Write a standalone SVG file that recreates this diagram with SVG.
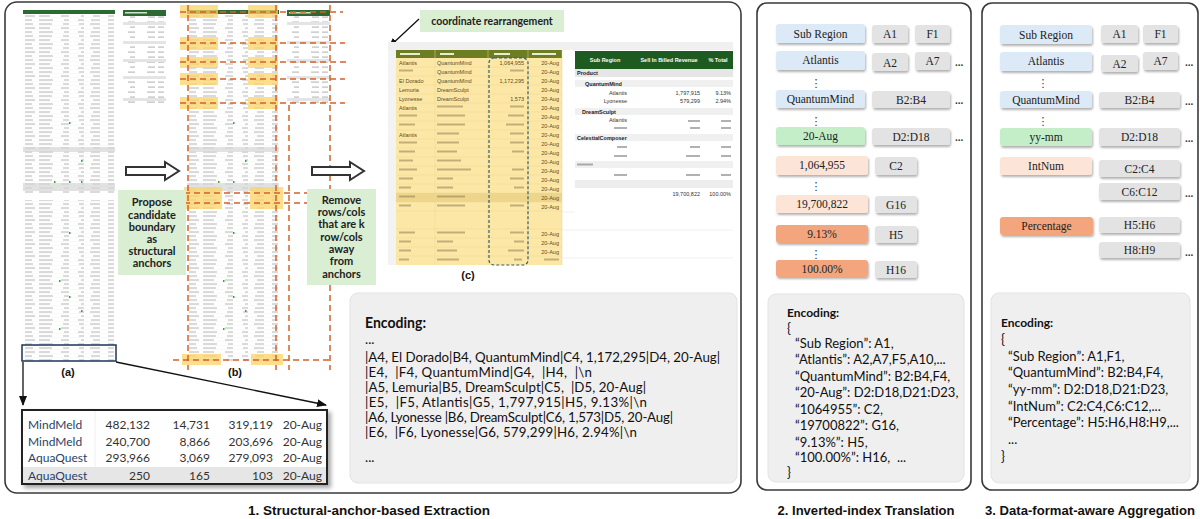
<svg xmlns="http://www.w3.org/2000/svg" width="1200" height="519" viewBox="0 0 1200 519">
<defs>
<style>
.panel{fill:#fff;stroke:#3a3a3a;stroke-width:1.6}
.enc{fill:#efefef;stroke:#e3e3e3;stroke-width:1}
.nb{fill:#dce9f6}.ng{fill:#c4eec8}.np{fill:#fce4d6}.no{fill:#f3a67e}.nx{fill:#e3e3e3}
.nt{font-family:"Liberation Serif",serif;font-size:11.5px;fill:#222;text-anchor:middle}
.dots{font-family:"Liberation Sans",sans-serif;font-size:10px;font-weight:bold;fill:#333}
.vd{font-family:"DejaVu Sans",sans-serif;font-size:11px;fill:#333;text-anchor:middle}
.et{font-family:Lato,"Liberation Sans",sans-serif;font-size:13px;fill:#111;white-space:pre}
.eh{font-family:Lato,"Liberation Sans",sans-serif;font-size:12px;font-weight:bold;fill:#111}
.e1{font-family:Lato,"Liberation Sans",sans-serif;font-size:13.3px;fill:#111;white-space:pre}
.e1h{font-family:Lato,"Liberation Sans",sans-serif;font-size:14.5px;font-weight:bold;fill:#111}
.gb{fill:#d9eed2}
.gt{font-family:Lato,"Liberation Sans",sans-serif;font-size:11px;font-weight:bold;fill:#222;text-anchor:middle}
.lab{font-family:"Liberation Sans",sans-serif;font-size:11px;font-weight:bold;fill:#111;text-anchor:middle}
.cap{font-family:"Liberation Sans",sans-serif;font-size:12px;font-weight:bold;fill:#111;text-anchor:middle}
.od{stroke:#d4612a;stroke-width:1.5;stroke-dasharray:6 4;fill:none}
.yl{fill:#fcd366;opacity:.75}
.blk{fill:#fff;stroke:#333;stroke-width:2}
.zt{font-family:Lato,"Liberation Sans",sans-serif;font-size:12px;fill:#333}
.zn{font-family:Lato,"Liberation Sans",sans-serif;font-size:12px;fill:#2b3f66}
.tc{font-family:"Liberation Sans",sans-serif;font-size:5.5px;fill:#5c4a20}
.tp{font-family:"Liberation Sans",sans-serif;font-size:5.5px;fill:#333}
.tb{font-family:"Liberation Sans",sans-serif;font-size:5.5px;font-weight:bold;fill:#222}
.bar{fill:#8a7650;opacity:.5}
.pbar{fill:#555;opacity:.45}
</style>
<filter id="sh" x="-10%" y="-20%" width="130%" height="170%"><feDropShadow dx="1" dy="2" stdDeviation="1" flood-color="#000" flood-opacity="0.3"/></filter>
<filter id="sh2" x="-5%" y="-10%" width="115%" height="130%"><feDropShadow dx="3" dy="3" stdDeviation="2" flood-color="#000" flood-opacity="0.35"/></filter>
<marker id="ah" markerWidth="10" markerHeight="10" refX="9" refY="5" orient="auto" markerUnits="userSpaceOnUse"><path d="M0,1 L10,5 L0,9 Z" fill="#111"/></marker>
<pattern id="rowsA" width="92" height="12" patternUnits="userSpaceOnUse">
<rect width="92" height="12" fill="#fff"/>
<g fill="#c2c2c2">
<rect x="2" y="1.4" width="8" height="1.2"/><rect x="16" y="1.4" width="13" height="1.2"/><rect x="40" y="1.4" width="6" height="1.2"/><rect x="56" y="1.4" width="5" height="1.2"/><rect x="67" y="1.4" width="10" height="1.2"/><rect x="85" y="1.4" width="6" height="1.2"/>
<rect x="2" y="5.4" width="10" height="1.2"/><rect x="16" y="5.4" width="11" height="1.2"/><rect x="38" y="5.4" width="8" height="1.2"/><rect x="58" y="5.4" width="3" height="1.2"/><rect x="70" y="5.4" width="7" height="1.2"/><rect x="85" y="5.4" width="6" height="1.2"/>
<rect x="2" y="9.4" width="7" height="1.2"/><rect x="16" y="9.4" width="14" height="1.2"/><rect x="41" y="9.4" width="5" height="1.2"/><rect x="55" y="9.4" width="6" height="1.2"/><rect x="68" y="9.4" width="9" height="1.2"/><rect x="85" y="9.4" width="6" height="1.2"/>
</g>
<g fill="#ededed"><rect y="3.7" width="92" height="0.3"/><rect y="7.7" width="92" height="0.3"/><rect y="11.7" width="92" height="0.3"/></g>
</pattern>
<pattern id="rowsP" width="43" height="10" patternUnits="userSpaceOnUse">
<rect width="43" height="10" fill="#fff"/>
<g fill="#bdbdbd"><rect x="5" y="1.5" width="7" height="1.2"/><rect x="24" y="1.5" width="8" height="1.2"/><rect x="35" y="1.5" width="6" height="1.2"/>
<rect x="7" y="6.5" width="5" height="1.2"/><rect x="25" y="6.5" width="7" height="1.2"/><rect x="35" y="6.5" width="6" height="1.2"/></g>
</pattern>
</defs>

<rect width="1200" height="519" fill="#fff"/>

<!-- panels -->
<g id="panel1"><rect class="panel" x="5" y="2" width="736" height="491" rx="12"/></g>
<g id="panel2"><rect class="panel" x="757" y="3" width="214" height="487" rx="10"/></g>
<g id="panel3"><rect class="panel" x="982" y="3" width="216" height="487" rx="10"/></g>

<!-- sheet (a) -->
<g id="sheet-a" transform="translate(23,10)">
<rect width="92" height="352" fill="url(#rowsA)"/>
<rect width="92" height="4" fill="#2d6a31"/>
<rect y="137" width="92" height="5" fill="#d6d6d6" opacity=".7"/>
<rect y="173" width="92" height="8" fill="#d6d6d6" opacity=".7"/>
<rect y="183" width="92" height="7" fill="#fff"/>
<g fill="#3aa63a"><rect x="46" y="112" width="1.5" height="2"/><rect x="58" y="150" width="1.5" height="2"/><rect x="31" y="171" width="1.5" height="2"/><rect x="46" y="171" width="1.5" height="2"/><rect x="58" y="171" width="1.5" height="2"/><rect x="46" y="222" width="1.5" height="2"/><rect x="36" y="270" width="1.5" height="2"/><rect x="46" y="286" width="1.5" height="2"/><rect x="58" y="300" width="1.5" height="2"/><rect x="36" y="318" width="1.5" height="2"/></g>
</g>
<g id="pivot-a" transform="translate(123,10)">
<rect width="43" height="95" fill="url(#rowsP)"/>
<rect width="43" height="6" fill="#2d6a31"/>
<rect x="2" y="2" width="22" height="1.5" fill="#cfe3cf"/>
<g fill="#e4e4e4"><rect y="12" width="43" height="3"/><rect y="31" width="43" height="3"/><rect y="49" width="43" height="3"/><rect y="66" width="43" height="3"/><rect y="88" width="43" height="3"/></g>
</g>

<!-- sheet (b) -->
<g id="sheet-b" transform="translate(187,10)">
<rect width="92" height="352" fill="url(#rowsA)"/>
<rect width="92" height="4" fill="#2d6a31"/>
<rect y="137" width="92" height="5" fill="#d6d6d6" opacity=".7"/>
<rect y="173" width="92" height="8" fill="#d6d6d6" opacity=".7"/>
<g fill="#3aa63a"><rect x="46" y="112" width="1.5" height="2"/><rect x="58" y="150" width="1.5" height="2"/><rect x="31" y="171" width="1.5" height="2"/><rect x="46" y="171" width="1.5" height="2"/><rect x="46" y="222" width="1.5" height="2"/><rect x="36" y="270" width="1.5" height="2"/><rect x="46" y="286" width="1.5" height="2"/><rect x="58" y="300" width="1.5" height="2"/><rect x="36" y="318" width="1.5" height="2"/></g>
</g>
<g id="pivot-b" transform="translate(287,10)">
<rect width="43" height="95" fill="url(#rowsP)"/>
<rect width="43" height="6" fill="#2d6a31"/>
<rect x="2" y="2" width="22" height="1.5" fill="#cfe3cf"/>
<g fill="#e4e4e4"><rect y="12" width="43" height="3"/><rect y="31" width="43" height="3"/><rect y="49" width="43" height="3"/><rect y="66" width="43" height="3"/><rect y="88" width="43" height="3"/></g>
</g>

<!-- anchor highlights -->
<g id="anchors">
<rect class="yl" x="180" y="5" width="38" height="13"/><rect class="yl" x="248" y="5" width="30" height="13"/>
<rect class="yl" x="180" y="37" width="38" height="13"/><rect class="yl" x="248" y="37" width="30" height="13"/>
<rect class="yl" x="180" y="57" width="38" height="11"/><rect class="yl" x="248" y="57" width="30" height="11"/>
<rect class="yl" x="180" y="73" width="38" height="12"/><rect class="yl" x="248" y="73" width="30" height="12"/>
<rect class="yl" x="180" y="97" width="38" height="12"/><rect class="yl" x="248" y="97" width="30" height="12"/>
<rect class="yl" x="184" y="187" width="38" height="22"/><rect class="yl" x="250" y="187" width="33" height="22"/>
<rect class="yl" x="182" y="354" width="39" height="11"/><rect class="yl" x="251" y="354" width="32" height="11"/>
</g>
<g id="anchor-lines">
<path class="od" d="M180,12H343M180,43H345M180,62H348M180,79H345M180,103H345M184,193H307M184,203H307M173,360H332"/>
<path class="od" d="M188,5V370M276,5V370M289,105V370M330,5V370"/>
</g>

<!-- block arrows -->
<path class="blk" d="M126,167 L165,167 L165,162 L179,171 L165,180 L165,175 L126,175 Z"/>
<path class="blk" d="M312,167 L350,167 L350,162 L364,171 L350,180 L350,175 L312,175 Z"/>

<g id="box-propose">
<rect class="gb" x="118" y="190" width="68" height="85"/>
<text class="gt" x="152" y="206">Propose</text>
<text class="gt" x="152" y="219">candidate</text>
<text class="gt" x="152" y="231">boundary</text>
<text class="gt" x="152" y="243">as</text>
<text class="gt" x="152" y="255">structural</text>
<text class="gt" x="152" y="267">anchors</text>
</g>
<g id="box-remove">
<rect class="gb" x="307" y="189" width="69" height="96"/>
<text class="gt" x="341.5" y="204">Remove</text>
<text class="gt" x="341.5" y="216">rows/cols</text>
<text class="gt" x="341.5" y="228">that are k</text>
<text class="gt" x="341.5" y="241">row/cols</text>
<text class="gt" x="341.5" y="253">away</text>
<text class="gt" x="341.5" y="265">from</text>
<text class="gt" x="341.5" y="278">anchors</text>
</g>

<text class="lab" x="68" y="376">(a)</text>
<text class="lab" x="235" y="376">(b)</text>

<!-- zoomed rows -->
<rect x="22" y="345" width="94" height="16" fill="none" stroke="#1d3557" stroke-width="1.5"/>
<g id="connectors">
<line x1="23" y1="362" x2="23" y2="405" stroke="#111" stroke-width="1.3" marker-end="url(#ah)"/>
<line x1="116" y1="362" x2="326" y2="405" stroke="#111" stroke-width="1.3" marker-end="url(#ah)"/>
<line x1="419" y1="19" x2="389" y2="47" stroke="#111" stroke-width="1.3" marker-end="url(#ah)"/>
</g>
<g id="zoom-table">
<rect x="22" y="410" width="305" height="74" fill="#fff" stroke="#222" stroke-width="2" filter="url(#sh2)"/>
<rect x="23" y="467" width="303" height="16" fill="#e6e6e6"/>
<line x1="95" y1="411" x2="95" y2="467" stroke="#eee"/>
<text class="zn" x="28" y="429">MindMeld</text><text class="zt" x="150" y="429" text-anchor="end">482,132</text><text class="zt" x="210" y="429" text-anchor="end">14,731</text><text class="zt" x="273" y="429" text-anchor="end">319,119</text><text class="zt" x="322" y="429" text-anchor="end">20-Aug</text>
<text class="zn" x="28" y="446">MindMeld</text><text class="zt" x="150" y="446" text-anchor="end">240,700</text><text class="zt" x="210" y="446" text-anchor="end">8,866</text><text class="zt" x="273" y="446" text-anchor="end">203,696</text><text class="zt" x="322" y="446" text-anchor="end">20-Aug</text>
<text class="zn" x="28" y="462">AquaQuest</text><text class="zt" x="150" y="462" text-anchor="end">293,966</text><text class="zt" x="210" y="462" text-anchor="end">3,069</text><text class="zt" x="273" y="462" text-anchor="end">279,093</text><text class="zt" x="322" y="462" text-anchor="end">20-Aug</text>
<text class="zn" x="28" y="480">AquaQuest</text><text class="zt" x="150" y="480" text-anchor="end">250</text><text class="zt" x="210" y="480" text-anchor="end">165</text><text class="zt" x="273" y="480" text-anchor="end">103</text><text class="zt" x="322" y="480" text-anchor="end">20-Aug</text>
</g>

<!-- (c) -->
<g id="coord-label">
<rect class="gb" x="420" y="10" width="144" height="22"/>
<text class="gt" x="492" y="25" style="font-size:10.5px">coordinate rearrangement</text>
</g>
<g id="sheet-c">
<rect x="388" y="42" width="345" height="8" fill="#f0f0f0"/>
<rect x="388" y="50" width="8" height="215" fill="#f3f3f3"/>
<rect x="396" y="50" width="166" height="8" fill="#6c7d22"/>
<rect x="396" y="58" width="166" height="207" fill="#fde7a6"/>
<rect x="396" y="193" width="166" height="9" fill="#edd58c"/>
<g stroke="#ead48f" stroke-width=".5">
<path d="M396,67H562M396,76H562M396,85H562M396,94H562M396,103H562M396,112H562M396,121H562M396,130H562M396,139H562M396,148H562M396,157H562M396,166H562M396,175H562M396,184H562M396,193H562M396,202H562M396,211H562M396,229H562M396,238H562M396,247H562M396,256H562"/>
<path d="M435,50V265M488,50V265M528,50V265M562,50V265"/>
</g>
<g stroke="#e6e6e6" stroke-width=".6"><path d="M562,230H733M562,258H733M562,212H575"/></g>
<g fill="#e8ecd0"><rect x="400" y="53" width="20" height="2"/><rect x="440" y="53" width="14" height="2"/><rect x="494" y="53" width="16" height="2"/><rect x="532" y="53" width="24" height="2"/></g>
<text class="tc" x="399" y="64.5">Atlantis</text><text class="tc" x="437" y="64.5">QuantumMind</text><text class="tc" x="524" y="64.5" text-anchor="end">1,064,955</text>
<rect class="bar" x="399" y="69.5" width="14" height="2"/><text class="tc" x="437" y="73.5">QuantumMind</text><rect class="bar" x="510" y="69.5" width="14" height="2"/>
<text class="tc" x="399" y="82.5">El Dorado</text><text class="tc" x="437" y="82.5">QuantumMind</text><text class="tc" x="524" y="82.5" text-anchor="end">1,172,295</text>
<text class="tc" x="399" y="91.5">Lemuria</text><text class="tc" x="437" y="91.5">DreamSculpt</text>
<text class="tc" x="399" y="100.5">Lyonesse</text><text class="tc" x="437" y="100.5">DreamSculpt</text><text class="tc" x="524" y="100.5" text-anchor="end">1,573</text>
<text class="tc" x="399" y="109.5">Atlantis</text>
<text class="tc" x="399" y="136.5">Atlantis</text>
<g class="bar">
<rect x="437" y="105.5" width="26" height="2"/><rect x="510" y="105.5" width="14" height="2"/>
<rect x="399" y="114.5" width="18" height="2"/><rect x="437" y="114.5" width="28" height="2"/><rect x="508" y="114.5" width="16" height="2"/>
<rect x="399" y="123.5" width="16" height="2"/><rect x="437" y="123.5" width="28" height="2"/><rect x="506" y="123.5" width="18" height="2"/>
<rect x="437" y="132.5" width="22" height="2"/><rect x="510" y="132.5" width="14" height="2"/>
<rect x="399" y="141.5" width="18" height="2"/><rect x="437" y="141.5" width="22" height="2"/><rect x="510" y="141.5" width="14" height="2"/>
<rect x="399" y="150.5" width="16" height="2"/><rect x="437" y="150.5" width="20" height="2"/><rect x="512" y="150.5" width="12" height="2"/>
<rect x="399" y="159.5" width="14" height="2"/><rect x="437" y="159.5" width="24" height="2"/>
<rect x="399" y="168.5" width="18" height="2"/><rect x="437" y="168.5" width="34" height="2"/><rect x="512" y="168.5" width="12" height="2"/>
<rect x="399" y="177.5" width="14" height="2"/><rect x="437" y="177.5" width="16" height="2"/><rect x="510" y="177.5" width="14" height="2"/>
<rect x="399" y="186.5" width="12" height="2"/><rect x="437" y="186.5" width="16" height="2"/><rect x="514" y="186.5" width="10" height="2"/>
<rect x="399" y="195.5" width="16" height="2"/><rect x="437" y="195.5" width="28" height="2"/>
<rect x="399" y="204.5" width="12" height="2"/><rect x="437" y="204.5" width="28" height="2"/><rect x="510" y="204.5" width="14" height="2"/>
<rect x="399" y="231.5" width="16" height="2"/><rect x="437" y="231.5" width="28" height="2"/><rect x="510" y="231.5" width="14" height="2"/>
<rect x="399" y="240.5" width="12" height="2"/><rect x="437" y="240.5" width="16" height="2"/><rect x="514" y="240.5" width="10" height="2"/>
<rect x="399" y="249.5" width="12" height="2"/><rect x="437" y="249.5" width="20" height="2"/><rect x="508" y="249.5" width="16" height="2"/>
<rect x="399" y="258.5" width="10" height="2"/><rect x="437" y="258.5" width="22" height="2"/><rect x="514" y="258.5" width="8" height="2"/><rect x="544" y="258.5" width="15" height="2"/>
</g>
<g class="tc" text-anchor="end">
<text x="559" y="64.5">20-Aug</text><text x="559" y="73.5">20-Aug</text><text x="559" y="82.5">20-Aug</text><text x="559" y="91.5">20-Aug</text><text x="559" y="100.5">20-Aug</text><text x="559" y="109.5">20-Aug</text><text x="559" y="118.5">20-Aug</text><text x="559" y="127.5">20-Aug</text><text x="559" y="136.5">20-Aug</text><text x="559" y="145.5">20-Aug</text><text x="559" y="154.5">20-Aug</text><text x="559" y="163.5">20-Aug</text><text x="559" y="172.5">20-Aug</text><text x="559" y="181.5">20-Aug</text><text x="559" y="190.5">20-Aug</text><text x="559" y="199.5">20-Aug</text><text x="559" y="208.5">20-Aug</text><text x="559" y="235.5">20-Aug</text><text x="559" y="244.5">20-Aug</text><text x="559" y="253.5">20-Aug</text>
</g>
<rect x="489" y="58" width="39" height="207" rx="5" fill="none" stroke="#2f5f6f" stroke-width="1.2" stroke-dasharray="3 2"/>
</g>
<g id="pivot-c">
<rect x="575" y="51" width="158" height="18" fill="#1e5b20"/>
<text class="tb" x="605" y="62" text-anchor="middle" style="fill:#fff">Sub Region</text>
<text class="tb" x="669" y="62" text-anchor="middle" style="fill:#fff">Sell In Billed Revenue</text>
<text class="tb" x="718" y="62" text-anchor="middle" style="fill:#fff">% Total</text>
<rect x="575" y="69" width="158" height="8" fill="#e6e6e6"/>
<text class="tb" x="577" y="75">Product</text>
<rect x="575" y="80" width="158" height="7" fill="#f0f0f0"/>
<text class="tb" x="585" y="85.5">QuantumMind</text>
<text class="tp" x="627" y="95" text-anchor="end">Atlantis</text><text class="tp" x="700" y="95" text-anchor="end">1,797,915</text><text class="tp" x="731" y="95" text-anchor="end">9.13%</text>
<text class="tp" x="627" y="103" text-anchor="end">Lyonesse</text><text class="tp" x="700" y="103" text-anchor="end">579,299</text><text class="tp" x="731" y="103" text-anchor="end">2.94%</text>
<rect x="575" y="108" width="158" height="7" fill="#f0f0f0"/>
<text class="tb" x="582" y="113.5">DreamSculpt</text>
<text class="tp" x="627" y="122" text-anchor="end">Atlantis</text>
<rect x="575" y="134" width="158" height="7" fill="#f0f0f0"/>
<text class="tb" x="577" y="139.5">CelestialComposer</text>
<rect x="575" y="161" width="158" height="7" fill="#f0f0f0"/>
<rect x="575" y="180" width="158" height="8" fill="#ededed"/>
<g class="pbar">
<rect x="688" y="120" width="12" height="2"/><rect x="721" y="120" width="10" height="2"/>
<rect x="614" y="127" width="13" height="2"/><rect x="690" y="127" width="10" height="2"/><rect x="721" y="127" width="10" height="2"/>
<rect x="617" y="146" width="10" height="2"/><rect x="690" y="146" width="10" height="2"/><rect x="721" y="146" width="10" height="2"/>
<rect x="614" y="155" width="13" height="2"/><rect x="686" y="155" width="14" height="2"/><rect x="721" y="155" width="10" height="2"/>
<rect x="577" y="163.5" width="16" height="2"/>
<rect x="614" y="174" width="13" height="2"/><rect x="686" y="174" width="14" height="2"/><rect x="721" y="174" width="10" height="2"/>
</g>
<text class="tp" x="700" y="196" text-anchor="end">19,700,822</text><text class="tp" x="731" y="196" text-anchor="end">100.00%</text>
</g>
<text class="lab" x="468" y="279">(c)</text>

<!-- encoding 1 -->
<g id="encoding1">
<rect class="enc" x="350" y="293" width="387" height="190" rx="8"/>
<text class="e1h" x="365" y="328" textLength="61" lengthAdjust="spacingAndGlyphs">Encoding:</text>
<text class="e1" x="365" y="344">...</text>
<text class="e1" x="365" y="362" textLength="355">|A4, El Dorado|B4, QuantumMind|C4, 1,172,295|D4, 20-Aug|</text>
<text class="e1" x="365" y="377" textLength="227">|E4,  |F4, QuantumMind|G4,  |H4,  |\n</text>
<text class="e1" x="365" y="392" textLength="281">|A5, Lemuria|B5, DreamSculpt|C5,  |D5, 20-Aug|</text>
<text class="e1" x="365" y="407" textLength="282">|E5,  |F5, Atlantis|G5, 1,797,915|H5, 9.13%|\n</text>
<text class="e1" x="365" y="422" textLength="308">|A6, Lyonesse |B6, DreamSculpt|C6, 1,573|D5, 20-Aug|</text>
<text class="e1" x="365" y="437" textLength="272">|E6,  |F6, Lyonesse|G6, 579,299|H6, 2.94%|\n</text>
<text class="e1" x="365" y="462">...</text>
</g>

<!-- panel 2 nodes -->
<g id="p2-subregion"><rect class="nb" x="776" y="24" width="89" height="19" rx="3" filter="url(#sh)"/><text class="nt" x="820.5" y="37.5">Sub Region</text></g>
<g id="p2-A1"><rect class="nx" x="872" y="25" width="36" height="18" rx="3" filter="url(#sh)"/><text class="nt" x="890" y="38">A1</text></g>
<g id="p2-F1"><rect class="nx" x="915" y="25" width="35" height="18" rx="3" filter="url(#sh)"/><text class="nt" x="932.5" y="38">F1</text></g>
<g id="p2-atlantis"><rect class="nb" x="776" y="51" width="89" height="19" rx="3" filter="url(#sh)"/><text class="nt" x="820.5" y="64">Atlantis</text></g>
<g id="p2-A2"><rect class="nx" x="872" y="53" width="36" height="18" rx="3" filter="url(#sh)"/><text class="nt" x="890" y="66.5">A2</text></g>
<g id="p2-A7"><rect class="nx" x="915" y="52" width="35" height="18" rx="3" filter="url(#sh)"/><text class="nt" x="932.5" y="65">A7</text></g>
<text class="dots" x="955" y="66">...</text>
<text class="vd" x="816" y="87">⋮</text>
<g id="p2-quantum"><rect class="nb" x="776" y="90" width="89" height="18" rx="3" filter="url(#sh)"/><text class="nt" x="820.5" y="103">QuantumMind</text></g>
<g id="p2-B2B4"><rect class="nx" x="872" y="91" width="78" height="17" rx="3" filter="url(#sh)"/><text class="nt" x="911" y="103.5">B2:B4</text></g>
<text class="dots" x="955" y="104">...</text>
<text class="vd" x="816" y="125">⋮</text>
<g id="p2-20aug"><rect class="ng" x="776" y="127" width="89" height="18" rx="3" filter="url(#sh)"/><text class="nt" x="820.5" y="140">20-Aug</text></g>
<g id="p2-D2D18"><rect class="nx" x="872" y="128" width="78" height="17" rx="3" filter="url(#sh)"/><text class="nt" x="911" y="140.5">D2:D18</text></g>
<text class="dots" x="955" y="141">...</text>
<g id="p2-1064955"><rect class="np" x="776" y="156" width="92" height="19" rx="3" filter="url(#sh)"/><text class="nt" x="822" y="169">1,064,955</text></g>
<g id="p2-C2"><rect class="nx" x="875" y="157" width="42" height="18" rx="3" filter="url(#sh)"/><text class="nt" x="896" y="170">C2</text></g>
<text class="vd" x="816" y="190">⋮</text>
<g id="p2-19700822"><rect class="np" x="776" y="195" width="92" height="18" rx="3" filter="url(#sh)"/><text class="nt" x="822" y="208">19,700,822</text></g>
<g id="p2-G16"><rect class="nx" x="875" y="196" width="42" height="17" rx="3" filter="url(#sh)"/><text class="nt" x="896" y="208.5">G16</text></g>
<g id="p2-913"><rect class="no" x="776" y="225" width="92" height="18" rx="3" filter="url(#sh)"/><text class="nt" x="822" y="238">9.13%</text></g>
<g id="p2-H5"><rect class="nx" x="875" y="226" width="42" height="17" rx="3" filter="url(#sh)"/><text class="nt" x="896" y="238.5">H5</text></g>
<text class="vd" x="816" y="258">⋮</text>
<g id="p2-100"><rect class="no" x="776" y="260" width="92" height="17" rx="3" filter="url(#sh)"/><text class="nt" x="822" y="272.5">100.00%</text></g>
<g id="p2-H16"><rect class="nx" x="875" y="261" width="42" height="17" rx="3" filter="url(#sh)"/><text class="nt" x="896" y="273.5">H16</text></g>

<g id="encoding2">
<rect class="enc" x="768" y="294" width="196" height="188" rx="8"/>
<text class="eh" x="787" y="317">Encoding:</text>
<text class="et" x="787" y="333">{</text>
<text class="et" x="795" y="348">“Sub Region”: A1,</text>
<text class="et" x="795" y="364">“Atlantis”: A2,A7,F5,A10,...</text>
<text class="et" x="795" y="381">“QuantumMind”: B2:B4,F4,</text>
<text class="et" x="795" y="397">“20-Aug”: D2:D18,D21:D23,</text>
<text class="et" x="795" y="414">“1064955”: C2,</text>
<text class="et" x="795" y="430">“19700822”: G16,</text>
<text class="et" x="795" y="447">“9.13%”: H5,</text>
<text class="et" x="795" y="462">“100.00%”: H16,  ...</text>
<text class="et" x="787" y="477">}</text>
</g>

<!-- panel 3 nodes -->
<g id="p3-subregion"><rect class="nb" x="1000" y="25" width="92" height="19" rx="3" filter="url(#sh)"/><text class="nt" x="1046" y="38.5">Sub Region</text></g>
<g id="p3-A1"><rect class="nx" x="1101" y="25" width="37" height="18" rx="3" filter="url(#sh)"/><text class="nt" x="1119.5" y="38">A1</text></g>
<g id="p3-F1"><rect class="nx" x="1143" y="25" width="35" height="18" rx="3" filter="url(#sh)"/><text class="nt" x="1160.5" y="38">F1</text></g>
<g id="p3-atlantis"><rect class="nb" x="1000" y="52" width="92" height="19" rx="3" filter="url(#sh)"/><text class="nt" x="1046" y="65">Atlantis</text></g>
<g id="p3-A2"><rect class="nx" x="1101" y="55" width="37" height="17" rx="3" filter="url(#sh)"/><text class="nt" x="1119.5" y="67.5">A2</text></g>
<g id="p3-A7"><rect class="nx" x="1143" y="52" width="35" height="18" rx="3" filter="url(#sh)"/><text class="nt" x="1160.5" y="65">A7</text></g>
<text class="dots" x="1185" y="66">...</text>
<text class="vd" x="1043" y="87">⋮</text>
<g id="p3-quantum"><rect class="nb" x="1000" y="91" width="92" height="17" rx="3" filter="url(#sh)"/><text class="nt" x="1046" y="103.5">QuantumMind</text></g>
<g id="p3-B2B4"><rect class="nx" x="1099" y="92" width="81" height="16" rx="3" filter="url(#sh)"/><text class="nt" x="1139.5" y="104">B2:B4</text></g>
<text class="dots" x="1185" y="105">...</text>
<text class="vd" x="1043" y="125">⋮</text>
<g id="p3-yymm"><rect class="ng" x="1000" y="128" width="92" height="18" rx="3" filter="url(#sh)"/><text class="nt" x="1046" y="141">yy-mm</text></g>
<g id="p3-D2D18"><rect class="nx" x="1099" y="128" width="81" height="18" rx="3" filter="url(#sh)"/><text class="nt" x="1139.5" y="141">D2:D18</text></g>
<text class="dots" x="1185" y="142">...</text>
<g id="p3-intnum"><rect class="np" x="1000" y="157" width="92" height="18" rx="3" filter="url(#sh)"/><text class="nt" x="1046" y="170">IntNum</text></g>
<g id="p3-C2C4"><rect class="nx" x="1099" y="160" width="81" height="17" rx="3" filter="url(#sh)"/><text class="nt" x="1139.5" y="172.5">C2:C4</text></g>
<g id="p3-C6C12"><rect class="nx" x="1099" y="183" width="81" height="17" rx="3" filter="url(#sh)"/><text class="nt" x="1139.5" y="195.5">C6:C12</text></g>
<text class="dots" x="1185" y="197">...</text>
<g id="p3-percentage"><rect class="no" x="1000" y="217" width="93" height="18" rx="3" filter="url(#sh)"/><text class="nt" x="1046.5" y="230">Percentage</text></g>
<g id="p3-H5H6"><rect class="nx" x="1099" y="217" width="81" height="16" rx="3" filter="url(#sh)"/><text class="nt" x="1139.5" y="229">H5:H6</text></g>
<g id="p3-H8H9"><rect class="nx" x="1099" y="242" width="81" height="16" rx="3" filter="url(#sh)"/><text class="nt" x="1139.5" y="254">H8:H9</text></g>
<text class="dots" x="1185" y="256">...</text>

<g id="encoding3">
<rect class="enc" x="991" y="293" width="199" height="190" rx="8"/>
<text class="eh" x="1001" y="327">Encoding:</text>
<text class="et" x="1001" y="344">{</text>
<text class="et" x="1008" y="361">“Sub Region”: A1,F1,</text>
<text class="et" x="1008" y="377">“QuantumMind”: B2:B4,F4,</text>
<text class="et" x="1008" y="394">“yy-mm”: D2:D18,D21:D23,</text>
<text class="et" x="1008" y="411">“IntNum”: C2:C4,C6:C12,...</text>
<text class="et" x="1008" y="427">“Percentage”: H5:H6,H8:H9,...</text>
<text class="et" x="1008" y="444">...</text>
<text class="et" x="1001" y="461">}</text>
</g>

<!-- captions -->
<text class="cap" x="369" y="515" textLength="242" lengthAdjust="spacingAndGlyphs">1. Structural-anchor-based Extraction</text>
<text class="cap" x="866" y="515" textLength="177" lengthAdjust="spacingAndGlyphs">2. Inverted-index Translation</text>
<text class="cap" x="1090" y="515" textLength="210" lengthAdjust="spacingAndGlyphs">3. Data-format-aware Aggregation</text>
</svg>
